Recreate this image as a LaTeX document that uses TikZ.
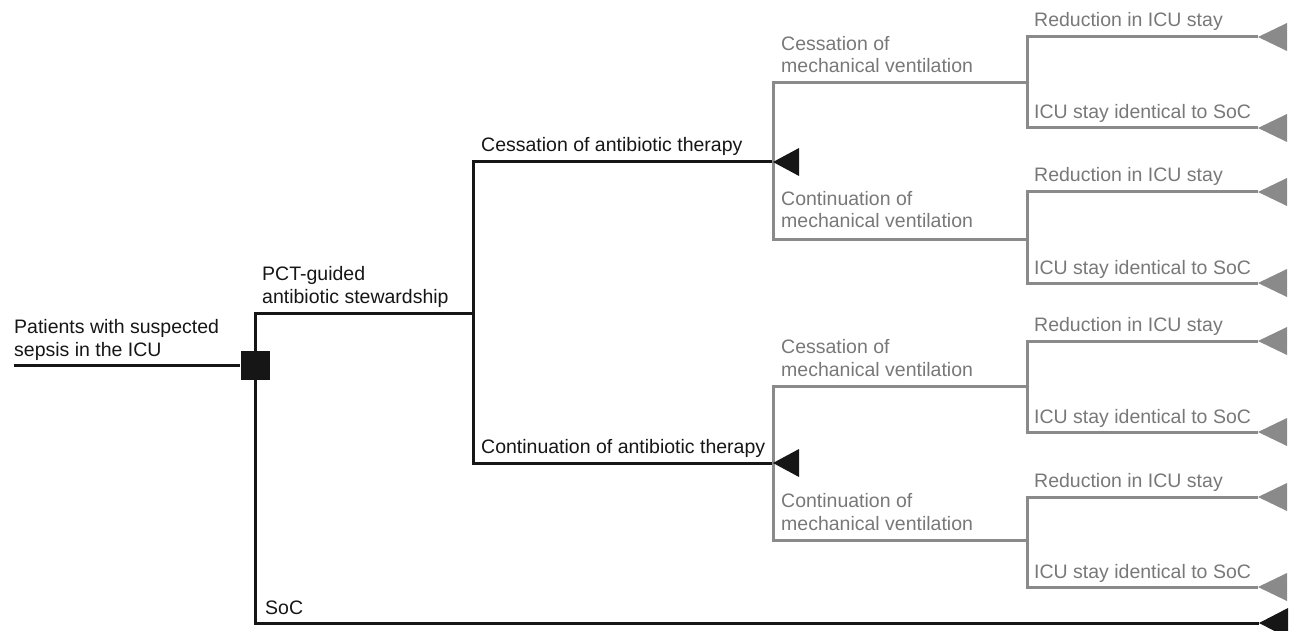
\documentclass[tikz,border=0pt]{standalone}
\usepackage{fontspec}
\setmainfont{Liberation Sans}
\definecolor{blk}{RGB}{22,22,22}
\definecolor{gln}{RGB}{138,138,138}
\definecolor{gtx}{RGB}{120,120,120}
\begin{document}
\begin{tikzpicture}[x=1pt,y=-1pt,
  bline/.style={draw=blk,line width=3pt,line join=miter},
  gline/.style={draw=gln,line width=3pt,line join=miter},
  lbl/.style={anchor=base west,inner sep=0pt,align=left,font=\fontsize{19.5}{22.5}\selectfont},
  blbl/.style={lbl,text=blk},
  glbl/.style={lbl,text=gtx},
  decbox/.style={fill=blk,minimum size=29pt,inner sep=0pt}]
\useasboundingbox (0,0) rectangle (1290,631);

% decision node
\coordinate (root) at (14,365);
\node[decbox] (dec) at (255,365) {};
\coordinate (pct) at (255,313);
\coordinate (socL) at (255,623);
\coordinate (socT) at (1259,623);
\coordinate (ab) at (473,313);
\coordinate (abT) at (473,162);
\coordinate (abB) at (473,463);
\coordinate (c1) at (773,162);
\coordinate (c2) at (773,463);

% black structure
\draw[bline] (root) -- (dec.west);
\draw[bline] (ab) -- (pct) -- (socL) -- (socT);
\draw[bline] (c1) -- (abT) -- (abB) -- (c2);

% gray mechanical ventilation branches
\foreach \c/\t/\b/\n in {c1/83/239/u, c2/386/540/l}{
  \coordinate (\n m) at (773,\t);
  \coordinate (\n n) at (773,\b);
  \draw[gline] (1027,\t) -- (\n m) -- (\n n) -- (1027,\b);
}
% gray outcome branches
\foreach \t/\b/\n in {37/128/g1,192/283/g2,341/432/g3,497/587/g4}{
  \coordinate (\n r) at (1258,\t);
  \coordinate (\n i) at (1258,\b);
  \draw[gline] (\n r) -- (1027,\t) -- (1027,\b) -- (\n i);
  \fill[gln] (\n r) -- ++(29,-14) -- ++(0,28) -- cycle;
  \fill[gln] (\n i) -- ++(29,-14) -- ++(0,28) -- cycle;
  \node[glbl] at (1034,\t-10) {Reduction in ICU stay};
  \node[glbl] at (1034,\b-9) {ICU stay identical to SoC};
}
% chance nodes
\fill[blk] (c1) -- ++(26,-14) -- ++(0,28) -- cycle;
\fill[blk] (c2) -- ++(26,-14) -- ++(0,28) -- cycle;
\fill[blk] (socT) -- ++(29,-15) -- ++(0,30) -- cycle;
\node[decbox] at (dec) {};

% labels
\node[blbl] (tPat) at (14,356) {Patients with suspected\\sepsis in the ICU};
\node[blbl] (tPct) at (262,303) {PCT-guided\\antibiotic stewardship};
\node[blbl] (tSoc) at (265,614) {SoC};
\node[blbl] (tAc) at (481,152) {Cessation of antibiotic therapy};
\node[blbl] (tAn) at (481,453) {Continuation of antibiotic therapy};
\node[glbl] (tM1) at (781,73) {Cessation of\\mechanical ventilation};
\node[glbl] (tM2) at (781,228) {Continuation of\\mechanical ventilation};
\node[glbl] (tM3) at (781,376) {Cessation of\\mechanical ventilation};
\node[glbl] (tM4) at (781,530) {Continuation of\\mechanical ventilation};
\end{tikzpicture}
\end{document}
